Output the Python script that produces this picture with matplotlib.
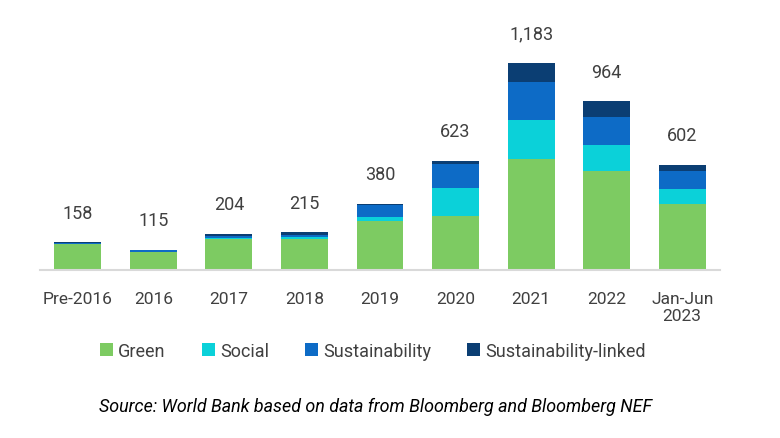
import matplotlib.pyplot as plt
import numpy as np

categories = ['Pre-2016', '2016', '2017', '2018', '2019', '2020', '2021', '2022', 'Jan-Jun\n2023']
green = [146, 103, 176, 178, 278, 310, 633, 568, 376]
social = [2, 2, 5, 8, 23, 159, 225, 145, 85]
sustainability = [8, 9, 13, 16, 69, 139, 214, 162, 103]
sust_linked = [2, 1, 10, 13, 10, 15, 111, 89, 38]
totals = [158, 115, 204, 215, 380, 623, 1183, 964, 602]

series = [('Green', green, '#7DCB62'),
          ('Social', social, '#0BD1D9'),
          ('Sustainability', sustainability, '#0D6BC6'),
          ('Sustainability-linked', sust_linked, '#0B3E73')]

plt.rcParams['font.family'] = ['Roboto', 'DejaVu Sans']

fig = plt.figure(figsize=(7.8, 4.39), dpi=100)
ax = fig.add_axes([40 / 780, 1 - 271 / 439, 680 / 780, 251 / 439])

x = np.arange(len(categories))
bottom = np.zeros(len(categories))
for name, vals, color in series:
    ax.bar(x, vals, width=0.62, bottom=bottom, color=color, label=name, zorder=2)
    bottom += np.array(vals)

for xi, t in zip(x, totals):
    ax.annotate(f'{t:,}', (xi, t), xytext=(0, 15), textcoords='offset points',
                ha='center', va='bottom', fontsize=13, color='#404040')

ax.set_xlim(-0.5, len(categories) - 0.5)
ax.set_ylim(0, 1435)
ax.set_yticks([])
ax.set_xticks(x)
ax.set_xticklabels(categories, fontsize=12.5, color='#404040')
ax.tick_params(axis='x', length=0, pad=15)
for s in ['top', 'right', 'left']:
    ax.spines[s].set_visible(False)
ax.spines['bottom'].set_color('#D9D9D9')
ax.spines['bottom'].set_linewidth(1.5)

handles, labels = ax.get_legend_handles_labels()
fig.legend(handles, labels, loc='center', bbox_to_anchor=(373 / 780, 1 - 352 / 439),
           ncol=4, frameon=False, fontsize=13, handlelength=0.7, handleheight=0.7,
           handletextpad=0.3, columnspacing=2.0, labelcolor='#404040')

fig.text(376 / 780, 1 - 407 / 439, 'Source: World Bank based on data from Bloomberg and Bloomberg NEF',
         ha='center', va='center', fontsize=12.9, style='italic', color='black')

fig.savefig('out.png', dpi=100)
